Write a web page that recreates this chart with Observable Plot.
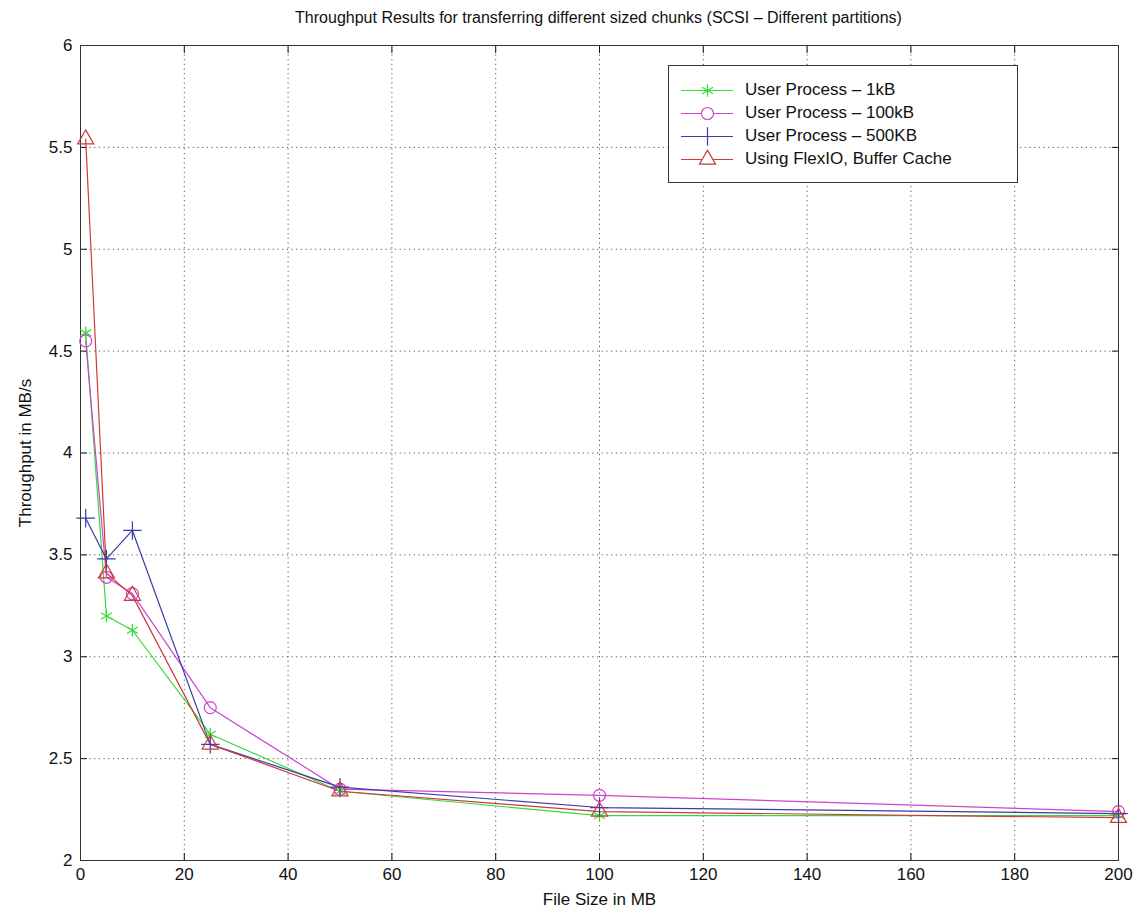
<!DOCTYPE html>
<html>
<head>
<meta charset="utf-8">
<script src="https://cdn.jsdelivr.net/npm/d3@7"></script>
<script src="https://cdn.jsdelivr.net/npm/@observablehq/plot@0.6"></script>
<style>
  body { margin: 0; background: #fff; font-family: "Liberation Sans", Arial, sans-serif; }
  #wrap { position: relative; width: 1137px; }
  #title { height: 30px; line-height: 36px; text-align: center; font-size: 16px; color: #111; padding-left: 60px; }
  #legend { position: absolute; left: 668px; top: 65px; width: 350px; height: 118px; border: 1px solid #333; background: #fff; box-sizing: border-box; padding-top: 12px; }
  .row { display: flex; align-items: center; height: 23px; font-size: 17px; color: #111; }
  .row svg { margin-left: 12px; margin-right: 12px; }
</style>
</head>
<body>
<div id="wrap">
  <div id="title">Throughput Results for transferring different sized chunks (SCSI – Different partitions)</div>
  <div id="chart"></div>
  <div id="legend"></div>
</div>
<script>
const fileSizes = [1, 5, 10, 25, 50, 100, 200];
const seriesNames = ["User Process – 1kB", "User Process – 100kB", "User Process – 500KB", "Using FlexIO, Buffer Cache"];
const user1kB   = [4.59, 3.20, 3.13, 2.62, 2.34, 2.22, 2.22];
const user100kB = [4.55, 3.39, 3.31, 2.75, 2.35, 2.32, 2.24];
const user500KB = [3.68, 3.48, 3.62, 2.57, 2.36, 2.26, 2.23];
const flexIO    = [5.54, 3.41, 3.30, 2.57, 2.34, 2.24, 2.21];
const xTicks = [0, 20, 40, 60, 80, 100, 120, 140, 160, 180, 200];
const yTicks = [2, 2.5, 3, 3.5, 4, 4.5, 5, 5.5, 6];
const yTickLabels = ["2", "2.5", "3", "3.5", "4", "4.5", "5", "5.5", "6"];
const colors = ["#33dd33", "#cc44cc", "#3a3aa8", "#cc3b3b"];
const symbols = ["asterisk", "circle", "plus", "triangle"];

const allSeries = [user1kB, user100kB, user500KB, flexIO];
const data = allSeries.flatMap((vals, i) => vals.map((v, j) => ({x: fileSizes[j], y: v, s: seriesNames[i]})));

const chart = Plot.plot({
  width: 1137,
  height: 889,
  marginLeft: 80,
  marginRight: 19,
  marginTop: 15,
  marginBottom: 59,
  style: {fontFamily: "Liberation Sans, Arial, sans-serif", fontSize: "16px", color: "#111", background: "#fff"},
  x: {domain: [0, 200]},
  y: {domain: [2, 6]},
  color: {domain: seriesNames, range: colors},
  symbol: {domain: seriesNames, range: symbols},
  marks: [
    Plot.gridX(xTicks, {stroke: "#444", strokeOpacity: 0.9, strokeDasharray: "1.2,3.5"}),
    Plot.gridY(yTicks, {stroke: "#444", strokeOpacity: 0.9, strokeDasharray: "1.2,3.5"}),
    Plot.axisX(xTicks, {anchor: "bottom", tickSize: -7, tickPadding: 14, fontSize: 17, label: "File Size in MB", labelAnchor: "center", labelArrow: "none", labelOffset: 44}),
    Plot.axisX(xTicks, {anchor: "top", tickSize: -7, tickFormat: () => "", label: null}),
    Plot.axisY(yTicks, {anchor: "left", tickSize: -7, tickPadding: 15, fontSize: 17, tickFormat: (d, i) => yTickLabels[i], label: "Throughput in MB/s", labelAnchor: "center", labelArrow: "none", labelOffset: 62}),
    Plot.axisY(yTicks, {anchor: "right", tickSize: -7, tickFormat: () => "", label: null}),
    Plot.frame({stroke: "#333"}),
    Plot.line(data, {x: "x", y: "y", z: "s", stroke: "s", strokeWidth: 1.2}),
    Plot.dot(data, {x: "x", y: "y", stroke: "s", symbol: "s", r: 6, strokeWidth: 1.2, fill: "none"})
  ]
});
document.getElementById("chart").appendChild(chart);

// legend
const legend = document.getElementById("legend");
seriesNames.forEach((name, i) => {
  const row = document.createElement("div");
  row.className = "row";
  const sw = Plot.plot({
    width: 52, height: 20, margin: 0,
    x: {domain: [0, 1], axis: null}, y: {domain: [0, 1], axis: null},
    symbol: {domain: seriesNames, range: symbols},
    marks: [
      Plot.ruleY([0.5], {x1: 0, x2: 1, stroke: colors[i], strokeWidth: 1.2}),
      Plot.dot([{x: 0.5, y: 0.5, s: name}], {x: "x", y: "y", symbol: "s", stroke: colors[i], fill: "white", r: 6, strokeWidth: 1.2})
    ]
  });
  row.appendChild(sw);
  const t = document.createElement("span");
  t.textContent = name;
  row.appendChild(t);
  legend.appendChild(row);
});
</script>
</body>
</html>
